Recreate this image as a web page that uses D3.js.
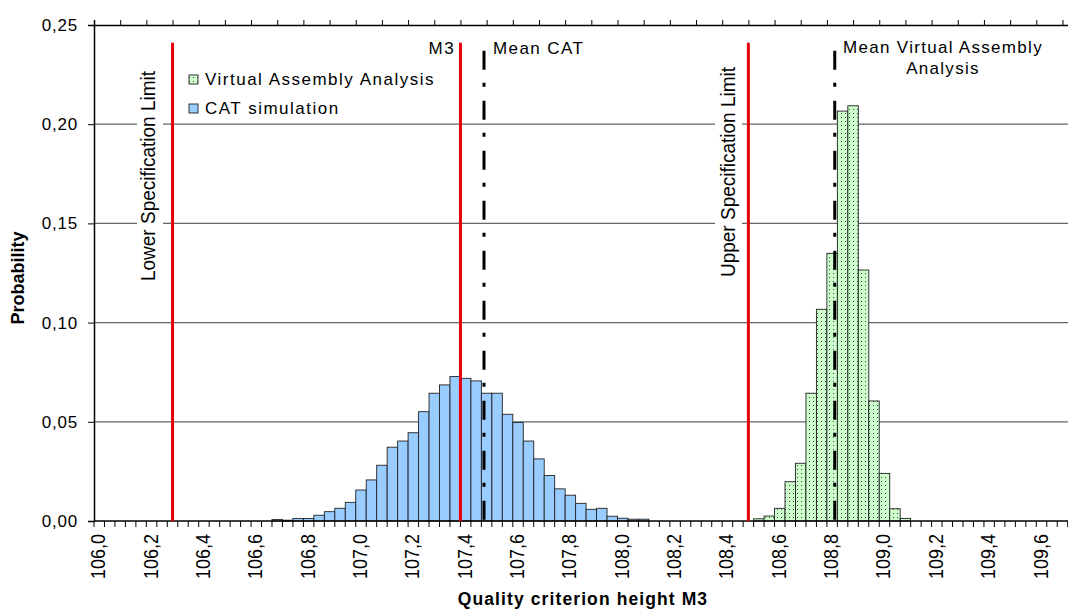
<!DOCTYPE html>
<html>
<head>
<meta charset="utf-8">
<script src="https://cdn.jsdelivr.net/npm/d3@7"></script>
<style>
  body { margin: 0; background: #fff; }
  text { font-family: "Liberation Sans", Arial, sans-serif; fill: #000; }
</style>
</head>
<body>
<div id="chart"></div>
<script>

// bins of 0.04 starting at 106,00 (only every 5th bin gets a label)
const binStart = 106.0;
const binWidth = 0.04;
const nBins = 94;

// CAT simulation, probability per bin (index = bin number)
const catIndex = [17, 18, 19, 20, 21, 22, 23, 24, 25, 26, 27, 28, 29, 30, 31, 32, 33, 34,
  35, 36, 37, 38, 39, 40, 41, 42, 43, 44, 45, 46, 47, 48, 49, 50, 51, 52];
const catValues = [0.0008, 0.0004, 0.0013, 0.0013, 0.0029, 0.0047, 0.0064, 0.0094, 0.0156,
  0.0207, 0.0281, 0.0372, 0.0403, 0.0445, 0.0551, 0.0644, 0.0686, 0.0728, 0.0719, 0.0706,
  0.0644, 0.0644, 0.0538, 0.0496, 0.0403, 0.0313, 0.0229, 0.0162, 0.0130, 0.0089, 0.0059,
  0.0064, 0.0024, 0.0014, 0.0009, 0.0009];

// Virtual Assembly Analysis
const vaaIndex = [63, 64, 65, 66, 67, 68, 69, 70, 71, 72, 73, 74, 75, 76, 77];
const vaaValues = [0.0011, 0.0025, 0.0064, 0.0198, 0.0291, 0.0644, 0.1067, 0.1349, 0.2066,
  0.2093, 0.1265, 0.0605, 0.0240, 0.0062, 0.0013];

// vertical marker lines (value axis on top)
const specLines = [106.3, 107.4, 108.5];   // LSL, M3, USL
const meanLines = [107.49, 108.83];        // Mean CAT, Mean Virtual Assembly Analysis
const redTop = 0.241;
const meanTop = 0.237;

const yTicks = [0, 0.05, 0.10, 0.15, 0.20, 0.25];

const width = 1068;
const height = 610;
const margin = {left: 94, top: 25, bottom: 89};
const binPx = 10.47;

const svg = d3.select("#chart")
  .append("svg")
  .attr("width", width)
  .attr("height", height);

const bins = d3.range(nBins);

let xBand = d3.scaleBand()
  .domain(bins)
  .range([margin.left, margin.left + nBins * binPx])
  .padding(0);

// continuous scale used for the marker lines / top axis
let xVal = d3.scaleLinear()
  .domain([binStart, binStart + nBins * binWidth])
  .range([margin.left, margin.left + nBins * binPx]);

let yScale = d3.scaleLinear()
  .domain([0, 0.25])
  .range([height - margin.bottom, margin.top]);

const fmt = v => d3.format(".2f")(v).replace(".", ",");

// dotted fill for the green bars
const defs = svg.append("defs");
const pat = defs.append("pattern")
  .attr("id", "dots")
  .attr("patternUnits", "userSpaceOnUse")
  .attr("width", 4).attr("height", 4);
pat.append("rect").attr("width", 4).attr("height", 4).attr("fill", "#ccffcc");
pat.append("rect").attr("x", 1).attr("y", 1).attr("width", 1).attr("height", 1).attr("fill", "#444");

// gridlines
svg.append("g")
  .selectAll("line")
  .data(yTicks.slice(1, 5))
  .enter()
  .append("line")
    .attr("x1", margin.left)
    .attr("x2", width)
    .attr("y1", d => yScale(d))
    .attr("y2", d => yScale(d))
    .attr("stroke", "#666")
    .attr("stroke-width", 1.2);

// CAT bars
svg.append("g")
  .selectAll("rect")
  .data(catIndex)
  .enter()
  .append("rect")
    .attr("x", d => xBand(d))
    .attr("y", (d, i) => yScale(catValues[i]))
    .attr("width", xBand.bandwidth())
    .attr("height", (d, i) => yScale(0) - yScale(catValues[i]))
    .attr("fill", "#99ccff")
    .attr("stroke", "#222")
    .attr("stroke-width", 0.9);

// VAA bars
svg.append("g")
  .selectAll("rect")
  .data(vaaIndex)
  .enter()
  .append("rect")
    .attr("x", d => xBand(d))
    .attr("y", (d, i) => yScale(vaaValues[i]))
    .attr("width", xBand.bandwidth())
    .attr("height", (d, i) => yScale(0) - yScale(vaaValues[i]))
    .attr("fill", "url(#dots)")
    .attr("stroke", "#222")
    .attr("stroke-width", 0.9);

// y axis
const yAxis = svg.append("g")
  .attr("transform", `translate(${margin.left},0)`)
  .call(d3.axisLeft(yScale).tickValues(yTicks).tickFormat(fmt).tickSize(6).tickPadding(10));
yAxis.select(".domain").attr("stroke-width", 1.5);
yAxis.selectAll("text")
  .attr("font-size", "17px")
  .attr("letter-spacing", "0.8px")
  .attr("font-family", "Liberation Sans, Arial, sans-serif");

// bottom axis: ticks between bins
const xAxis = svg.append("g")
  .attr("transform", `translate(0,${yScale(0)})`);
xAxis.append("line")
  .attr("x1", margin.left).attr("x2", width)
  .attr("stroke", "#000").attr("stroke-width", 1.5);
xAxis.selectAll(".tk")
  .data(d3.range(nBins + 1))
  .enter()
  .append("line")
    .attr("class", "tk")
    .attr("x1", d => margin.left + d * xBand.step())
    .attr("x2", d => margin.left + d * xBand.step())
    .attr("y1", 0).attr("y2", 6)
    .attr("stroke", "#000");
xAxis.selectAll(".lbl")
  .data(bins.filter(d => d % 5 === 0))
  .enter()
  .append("text")
    .attr("class", "lbl")
    .attr("transform", d => `translate(${xBand(d) + xBand.bandwidth() / 2 + 6},13) rotate(-90) scale(1,1.12)`)
    .attr("text-anchor", "end")
    .attr("font-size", "18px")
    .text(d => d3.format(".1f")(binStart + d * binWidth).replace(".", ","));

// top value axis (ticks only)
const topAxis = svg.append("g")
  .attr("transform", `translate(0,${margin.top})`)
  .call(d3.axisTop(xVal).tickValues(d3.range(0, 38).map(k => binStart + k * 0.1)).tickFormat("").tickSize(5));
topAxis.select(".domain").attr("stroke-width", 1.5);

// spec limit labels (white boxes over gridlines)
const rotLabels = [
  {text: "Lower Specification Limit", x: 155, y: 176, box: [137, 163]},
  {text: "Upper Specification Limit", x: 735, y: 172, box: [715, 742]}
];
rotLabels.forEach(l => {
  svg.append("rect")
    .attr("x", l.box[0]).attr("y", l.y - 110)
    .attr("width", l.box[1] - l.box[0]).attr("height", 220)
    .attr("fill", "#fff");
  svg.append("text")
    .attr("transform", `translate(${l.x},${l.y}) rotate(-90) scale(1,1.1)`)
    .attr("text-anchor", "middle")
    .attr("font-size", "19px")
    .text(l.text);
});

// red spec lines
svg.append("g")
  .selectAll("line")
  .data(specLines)
  .enter()
  .append("line")
    .attr("x1", d => xVal(d)).attr("x2", d => xVal(d))
    .attr("y1", yScale(redTop)).attr("y2", yScale(0))
    .attr("stroke", "#e8000b")
    .attr("stroke-width", 3);

// mean lines, dash-dot
svg.append("g")
  .selectAll("line")
  .data(meanLines)
  .enter()
  .append("line")
    .attr("x1", d => xVal(d)).attr("x2", d => xVal(d))
    .attr("y1", yScale(meanTop)).attr("y2", yScale(0))
    .attr("stroke", "#000")
    .attr("stroke-width", 3)
    .attr("stroke-dasharray", "19,13,4,14");

// annotations
svg.append("text")
  .attr("x", 455).attr("y", 54)
  .attr("text-anchor", "end")
  .attr("font-size", "17px").attr("letter-spacing", "1.4px")
  .text("M3");
svg.append("text")
  .attr("x", 493).attr("y", 54)
  .attr("font-size", "17px").attr("letter-spacing", "1.4px")
  .text("Mean CAT");
svg.append("text")
  .attr("x", 943).attr("y", 53)
  .attr("text-anchor", "middle")
  .attr("font-size", "17px").attr("letter-spacing", "1.3px")
  .text("Mean Virtual Assembly");
svg.append("text")
  .attr("x", 943).attr("y", 74)
  .attr("text-anchor", "middle")
  .attr("font-size", "17px").attr("letter-spacing", "1.3px")
  .text("Analysis");

// legend
const legend = [
  {name: "Virtual Assembly Analysis", fill: "url(#dots)", y: 75},
  {name: "CAT simulation", fill: "#99ccff", y: 104}
];
legend.forEach(l => {
  svg.append("rect")
    .attr("x", 189).attr("y", l.y)
    .attr("width", 9).attr("height", 9)
    .attr("fill", l.fill)
    .attr("stroke", "#333");
  svg.append("text")
    .attr("x", 205).attr("y", l.y + 10)
    .attr("font-size", "17px").attr("letter-spacing", "1.5px")
    .text(l.name);
});

// axis titles
svg.append("text")
  .attr("transform", "translate(24,278) rotate(-90)")
  .attr("text-anchor", "middle")
  .attr("font-size", "18px")
  .attr("font-weight", "bold")
  .text("Probability");
svg.append("text")
  .attr("x", 583).attr("y", 605)
  .attr("text-anchor", "middle")
  .attr("font-size", "17.5px")
  .attr("font-weight", "bold")
  .attr("letter-spacing", "1.1px")
  .text("Quality criterion height M3");

</script>
</body>
</html>
